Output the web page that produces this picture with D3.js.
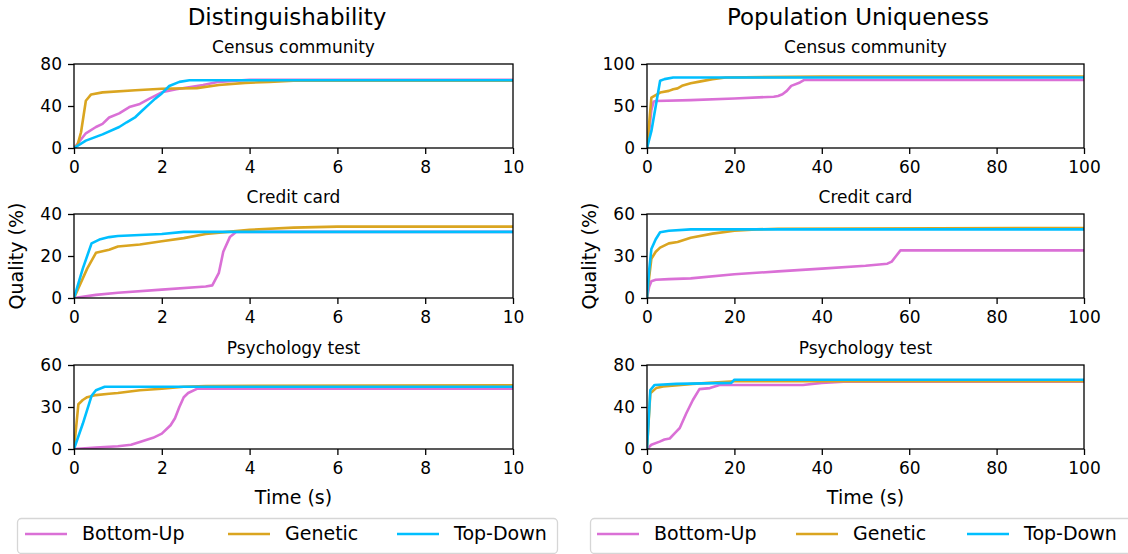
<!DOCTYPE html>
<html>
<head>
<meta charset="utf-8">
<script src="https://cdn.jsdelivr.net/npm/d3@7"></script>
<style>
  body { margin: 0; background: #fff; }
  text { font-family: "DejaVu Sans", sans-serif; fill: #000; }
</style>
</head>
<body>
<svg id="chart" width="1128" height="554"></svg>
<script>
// data: [time, quality %]

const methods = ['Bottom-Up', 'Genetic', 'Top-Down']
const colors = ['#da70d6', '#daa520', '#00bfff']

const columnTitles = ['Distinguishability', 'Population Uniqueness']
const rowTitles = ['Census community', 'Credit card', 'Psychology test']

const distXTicks = [0, 2, 4, 6, 8, 10]
const uniqXTicks = [0, 20, 40, 60, 80, 100]

const distCensusYTicks = [0, 40, 80]
const distCreditYTicks = [0, 20, 40]
const distPsychYTicks = [0, 30, 60]
const uniqCensusYTicks = [0, 50, 100]
const uniqCreditYTicks = [0, 30, 60]
const uniqPsychYTicks = [0, 40, 80]

// Distinguishability / Census community
const distCensusBottomUp = [[0,0],[0.1,5],[0.27,14],[0.5,20],[0.65,23],[0.8,29],[1.03,33],[1.26,39],[1.5,42],[1.72,47],[2.0,53],[2.33,56],[2.94,60],[3.3,63],[4,65],[10,65]]
const distCensusGenetic = [[0,0],[0.08,3],[0.16,15],[0.27,45],[0.39,51],[0.65,53],[1.4,55],[2.0,56.5],[2.8,57],[3.3,60],[3.9,62],[4.45,63],[5,64],[10,64]]
const distCensusTopDown = [[0,0],[0.27,7],[0.65,13],[1.03,20],[1.2,24.5],[1.4,29.5],[1.55,35.5],[1.72,42],[1.85,47],[2.0,52],[2.17,59],[2.4,63],[2.63,64.5],[10,64.5]]

// Distinguishability / Credit card
const distCreditBottomUp = [[0,0],[0.5,1.5],[1,2.5],[2,4],[3,5.5],[3.15,6],[3.3,12],[3.4,22],[3.55,29],[3.7,31.5],[10,31.5]]
const distCreditGenetic = [[0,0],[0.3,14],[0.5,21.5],[0.8,23],[1,24.5],[1.5,25.5],[2,27],[2.5,28.5],[3,30.5],[3.5,31.5],[4,32.5],[5,33.5],[6,34],[10,34]]
const distCreditTopDown = [[0,0],[0.2,14],[0.4,26],[0.6,28],[0.8,29],[1,29.5],[2,30.5],[2.5,31.5],[10,31.5]]

// Distinguishability / Psychology test
const distPsychBottomUp = [[0,0],[0.5,1],[1,2],[1.3,3],[1.5,5],[1.8,8],[2,11],[2.2,17],[2.3,22],[2.4,30],[2.5,37],[2.6,40],[2.8,43],[10,43]]
const distPsychGenetic = [[0,0],[0.1,32],[0.2,35],[0.3,37],[0.5,38.5],[0.8,39.5],[1,40],[1.5,42],[2,43],[2.5,44.5],[3,45],[10,45.5]]
const distPsychTopDown = [[0,0],[0.2,18],[0.4,38],[0.5,42],[0.7,44.5],[10,44.5]]

// Population Uniqueness / Census community
const uniqCensusBottomUp = [[0,0],[0.5,20],[1,45],[1.5,55],[2,56],[10,57],[20,59],[29,61],[30,62],[31,64],[32,68],[33,74],[35,78],[36,81],[100,81]]
const uniqCensusGenetic = [[0,0],[0.5,30],[1,60],[2,63],[3,66],[5,68],[6,70],[7,71],[8,74],[10,77],[12,79],[15,82],[18,84],[40,85],[100,85]]
const uniqCensusTopDown = [[0,0],[1,20],[2,50],[3,80],[4,82],[6,84],[100,84]]

// Population Uniqueness / Credit card
const uniqCreditBottomUp = [[0,0],[0.5,8],[1,12],[2,13],[5,13.5],[10,14],[20,17],[30,19],[40,21],[50,23],[55,24.5],[56,26],[57,30],[58,34],[100,34]]
const uniqCreditGenetic = [[0,0],[0.5,15],[1,28],[2,33],[3,36],[5,39],[7,40],[10,43],[15,46],[20,48],[25,49],[30,49.5],[100,50]]
const uniqCreditTopDown = [[0,0],[0.5,20],[1,35],[2,42],[3,47],[5,48],[10,49],[100,49]]

// Population Uniqueness / Psychology test
const uniqPsychBottomUp = [[0,0],[1,4],[2.9,7],[4,9],[5.2,10],[6.7,16.5],[7.5,20],[9,34],[10.5,46.7],[12,57],[14.4,58],[16.6,61],[35.7,61],[40,63],[45,64],[100,64]]
const uniqPsychGenetic = [[0,0],[0.76,53],[2.1,58],[3.7,59.5],[10.5,62],[20,64.5],[100,64.5]]
const uniqPsychTopDown = [[0,0],[0.76,56],[1.75,61],[6.7,62],[19.3,63],[20,66],[100,66]]

// layout

const COLS = [ { x0: 74, x1: 513 }, { x0: 647, x1: 1084 } ]
const ROWS = [ { y0: 64, y1: 148 }, { y0: 214, y1: 298 }, { y0: 365, y1: 449 } ]

const panels = [
  { col: 0, row: 0, xMax: 10,  xTicks: distXTicks, yTicks: distCensusYTicks, series: [distCensusBottomUp, distCensusGenetic, distCensusTopDown] },
  { col: 0, row: 1, xMax: 10,  xTicks: distXTicks, yTicks: distCreditYTicks, series: [distCreditBottomUp, distCreditGenetic, distCreditTopDown] },
  { col: 0, row: 2, xMax: 10,  xTicks: distXTicks, yTicks: distPsychYTicks,  series: [distPsychBottomUp, distPsychGenetic, distPsychTopDown] },
  { col: 1, row: 0, xMax: 100, xTicks: uniqXTicks, yTicks: uniqCensusYTicks, series: [uniqCensusBottomUp, uniqCensusGenetic, uniqCensusTopDown] },
  { col: 1, row: 1, xMax: 100, xTicks: uniqXTicks, yTicks: uniqCreditYTicks, series: [uniqCreditBottomUp, uniqCreditGenetic, uniqCreditTopDown] },
  { col: 1, row: 2, xMax: 100, xTicks: uniqXTicks, yTicks: uniqPsychYTicks,  series: [uniqPsychBottomUp, uniqPsychGenetic, uniqPsychTopDown] }
]

const svg = d3.select('#chart')
const defs = svg.append('defs')

panels.forEach( (p, i) => {
  let c = COLS[p.col], r = ROWS[p.row]
  let yMax = p.yTicks[p.yTicks.length - 1]
  let x = d3.scaleLinear().domain([0, p.xMax]).range([c.x0, c.x1])
  let y = d3.scaleLinear().domain([0, yMax]).range([r.y1, r.y0])

  defs.append('clipPath').attr('id', 'clip' + i)
    .append('rect')
      .attr('x', c.x0).attr('y', r.y0)
      .attr('width', c.x1 - c.x0).attr('height', r.y1 - r.y0)

  let g = svg.append('g')

  // lines
  let line = d3.line().x(d => x(d[0])).y(d => y(d[1]))
  g.append('g').attr('clip-path', 'url(#clip' + i + ')')
    .selectAll('path').data(p.series).join('path')
      .attr('d', line)
      .attr('fill', 'none')
      .attr('stroke', (d, k) => colors[k])
      .attr('stroke-width', 2.6)
      .attr('stroke-linejoin', 'round')
      .attr('stroke-linecap', 'square')

  // axes
  let xAxis = g.append('g')
    .attr('transform', 'translate(0,' + r.y1 + ')')
    .call(d3.axisBottom(x).tickValues(p.xTicks).tickSize(6).tickPadding(6).tickFormat(d3.format('d')))
  let yAxis = g.append('g')
    .attr('transform', 'translate(' + c.x0 + ',0)')
    .call(d3.axisLeft(y).tickValues(p.yTicks).tickSize(6).tickPadding(6).tickFormat(d3.format('d')))
  ;[xAxis, yAxis].forEach( (a) => {
    a.select('.domain').remove()
    a.selectAll('line').attr('stroke', '#000').attr('stroke-width', 1.3)
    a.selectAll('text').attr('font-size', 17).attr('font-family', '"DejaVu Sans", sans-serif')
  })
  xAxis.selectAll('text').attr('dy', '0.74em')

  // frame
  g.append('rect')
    .attr('x', c.x0).attr('y', r.y0)
    .attr('width', c.x1 - c.x0).attr('height', r.y1 - r.y0)
    .attr('fill', 'none').attr('stroke', '#000').attr('stroke-width', 1.3)

  // panel title
  g.append('text')
    .attr('x', (c.x0 + c.x1) / 2).attr('y', r.y0 - 11)
    .attr('text-anchor', 'middle').attr('font-size', 17)
    .text(rowTitles[p.row])
})

// column titles and axis labels
const titleX = [287, 858]
COLS.forEach( (c, k) => {
  let mid = (c.x0 + c.x1) / 2
  svg.append('text')
    .attr('x', titleX[k]).attr('y', 25)
    .attr('text-anchor', 'middle').attr('font-size', 23)
    .text(columnTitles[k])
  svg.append('text')
    .attr('x', mid).attr('y', 504)
    .attr('text-anchor', 'middle').attr('font-size', 19)
    .text('Time (s)')
  let ly = (ROWS[1].y0 + ROWS[1].y1) / 2
  let lx = k === 0 ? 23 : 596
  svg.append('text')
    .attr('transform', 'translate(' + lx + ',' + ly + ') rotate(-90)')
    .attr('text-anchor', 'middle').attr('font-size', 19)
    .text('Quality (%)')
})

// legends
const legends = [
  { x: 17, w: 540, lines: [25, 228, 397] },
  { x: 590, w: 560, lines: [597, 796, 967] }
]
legends.forEach( (L) => {
  let g = svg.append('g')
  g.append('rect')
    .attr('x', L.x + 0.5).attr('y', 518.5)
    .attr('width', L.w).attr('height', 35)
    .attr('rx', 4)
    .attr('fill', '#fff').attr('stroke', '#d6d6d6').attr('stroke-width', 1.3)
  methods.forEach( (m, k) => {
    g.append('line')
      .attr('x1', L.lines[k]).attr('x2', L.lines[k] + 42)
      .attr('y1', 534).attr('y2', 534)
      .attr('stroke', colors[k]).attr('stroke-width', 2.6)
    g.append('text')
      .attr('x', L.lines[k] + 57).attr('y', 540)
      .attr('font-size', 19)
      .text(m)
  })
})
</script>
</body>
</html>
